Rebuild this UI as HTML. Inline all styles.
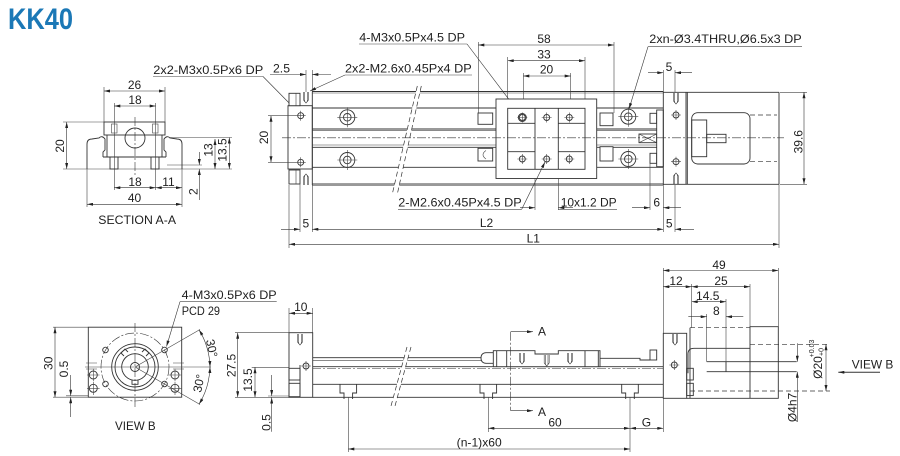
<!DOCTYPE html>
<html><head><meta charset="utf-8"><style>
html,body{margin:0;padding:0;background:#fff}
svg{display:block}
text{font-family:"Liberation Sans",sans-serif;fill:#1e1e1e}
.o{fill:none;stroke:#333;stroke-width:0.9}
.f{fill:#fff;stroke:#333;stroke-width:0.9}
.t{fill:none;stroke:#444;stroke-width:0.6}
.d{fill:none;stroke:#333;stroke-width:0.6;marker-start:url(#ar);marker-end:url(#ar)}
.e{fill:none;stroke:#333;stroke-width:0.6;marker-end:url(#ar)}
.c{fill:none;stroke:#333;stroke-width:0.6;stroke-dasharray:9 2 2 2}
.h{fill:none;stroke:#333;stroke-width:0.7;stroke-dasharray:5 3}
</style></head><body>
<svg width="900" height="456" viewBox="0 0 900 456" xmlns="http://www.w3.org/2000/svg" font-size="12">
<defs>
<marker id="ar" viewBox="0 0 8 4" refX="8" refY="2" markerWidth="7" markerHeight="3" markerUnits="userSpaceOnUse" orient="auto-start-reverse"><path d="M0,0L8,2L0,4z" fill="#222"/></marker>
<g id="hs"><circle r="3" class="o"/><path d="M-5,0H5M0,-5V5" class="t"/></g>
<g id="cb"><circle r="7.5" class="o"/><circle r="3.8" class="o"/><path d="M-10,0H10M0,-10V10" class="t"/></g>
<g id="bt"><path d="M-2.5,0V8M2.5,0V8M-1.3,0V10M1.3,0V10M-2.5,8L0,11L2.5,8" class="t"/></g>
</defs>

<!-- TITLE -->
<text x="8" y="29" style="font-size:30px;font-weight:bold;fill:#1b78b6" textLength="65" lengthAdjust="spacingAndGlyphs">KK40</text>

<!-- ============ SECTION A-A ============ -->
<path class="t" d="M104,87V122M165,87V122M114.3,103V190M155.7,103V190M63,122H104M63,169H232M87,169V207M182,169V207M170,137.5H232M167,165H202"/>
<line class="d" x1="104" y1="91" x2="165" y2="91"/>
<line class="d" x1="114.3" y1="106" x2="155.7" y2="106"/>
<line class="d" x1="66.7" y1="122" x2="66.7" y2="169"/>
<line class="d" x1="114.3" y1="187.7" x2="155.7" y2="187.7"/>
<line class="d" x1="155.7" y1="187.7" x2="182" y2="187.7"/>
<line class="d" x1="87" y1="204.3" x2="182" y2="204.3"/>
<line class="d" x1="215" y1="139" x2="215" y2="169"/>
<line class="d" x1="229.3" y1="137.5" x2="229.3" y2="169"/>
<line class="e" x1="199.3" y1="152" x2="199.3" y2="165"/>
<line class="e" x1="199.3" y1="200" x2="199.3" y2="169"/>
<path class="o" d="M87,169V144Q87,139 92,139L99,138Q102,135 105,139V150L103,152V157"/>
<path class="o" d="M182,169V144Q182,139 177,139L170,138Q167,135 164,139V150L166,152V157"/>
<rect class="o" x="104" y="122" width="61" height="13"/>
<path class="o" d="M107,135V157M162,135V157M103,157H166"/>
<rect class="o" x="110" y="157" width="8" height="12"/>
<rect class="o" x="151" y="157" width="8" height="12"/>
<rect class="t" x="111.5" y="124" width="5.5" height="9"/>
<rect class="t" x="152.5" y="124" width="5.5" height="9"/>
<circle class="o" cx="135" cy="138" r="10"/>
<line class="c" x1="135" y1="117" x2="135" y2="176"/>
<text x="134.5" y="89" text-anchor="middle">26</text>
<text x="135" y="104" text-anchor="middle">18</text>
<text transform="translate(60,146) rotate(-90)" text-anchor="middle" dominant-baseline="central">20</text>
<text transform="translate(208.3,150) rotate(-90)" text-anchor="middle" dominant-baseline="central">13</text>
<text transform="translate(222.5,150) rotate(-90)" text-anchor="middle" dominant-baseline="central">13.5</text>
<text transform="translate(193.3,191.7) rotate(-90)" text-anchor="middle" dominant-baseline="central">2</text>
<text x="135" y="186" text-anchor="middle">18</text>
<text x="168.5" y="186" text-anchor="middle">11</text>
<text x="134.5" y="202" text-anchor="middle">40</text>
<text x="98.3" y="224" textLength="77.7" lengthAdjust="spacingAndGlyphs">SECTION A-A</text>

<!-- ============ TOP VIEW ============ -->
<text x="153.3" y="74" textLength="110" lengthAdjust="spacingAndGlyphs">2x2-M3x0.5Px6 DP</text>
<path class="t" d="M153,76.5H263"/><line class="e" x1="263" y1="76.5" x2="297" y2="111"/>
<text x="273" y="72.5" textLength="17" lengthAdjust="spacingAndGlyphs">2.5</text>
<line class="e" x1="270" y1="74.5" x2="306" y2="74.5"/>
<line class="e" x1="331" y1="74.5" x2="312.3" y2="74.5"/>
<text x="345" y="72.5" textLength="126.7" lengthAdjust="spacingAndGlyphs">2x2-M2.6x0.45Px4 DP</text>
<path class="t" d="M345,75H472"/><line class="e" x1="345" y1="75" x2="310" y2="91"/>
<text x="359.3" y="41.5" textLength="105.7" lengthAdjust="spacingAndGlyphs">4-M3x0.5Px4.5 DP</text>
<path class="t" d="M359,44H467"/><line class="e" x1="467" y1="44" x2="520" y2="114"/>
<text x="649.3" y="43" textLength="152.4" lengthAdjust="spacingAndGlyphs">2xn-Ø3.4THRU,Ø6.5x3 DP</text>
<path class="t" d="M648,46.7H802"/><line class="e" x1="648" y1="46.7" x2="629" y2="109"/>
<path class="t" d="M478.3,42V115M614,42V113M507.7,57V108.3M585,57V108.3M523.3,73V113M570.7,73V113"/>
<line class="d" x1="478.3" y1="45" x2="614" y2="45"/>
<line class="d" x1="507.7" y1="60.7" x2="585" y2="60.7"/>
<line class="d" x1="523.3" y1="76" x2="570.7" y2="76"/>
<text x="544" y="43" text-anchor="middle">58</text>
<text x="544" y="58.3" text-anchor="middle">33</text>
<text x="546.5" y="73.7" text-anchor="middle">20</text>
<path class="t" d="M306,70V92M312.3,70V92M663.3,70V92M675,70V92"/>
<line class="e" x1="648" y1="72.7" x2="663.3" y2="72.7"/>
<line class="e" x1="692" y1="72.7" x2="675" y2="72.7"/>
<text x="669" y="71" text-anchor="middle">5</text>

<path class="o" d="M312.3,91.5H663.3M312.3,185H663.3M312.3,108H663.3M312.3,129H663.3M312.3,147.3H663.3M312.3,167.3H663.3"/>
<path class="t" d="M312.3,93H663.3M312.3,183.5H663.3M312.3,130.7H663.3M312.3,145H663.3"/>
<polygon points="417.3,86 421.3,86 397.3,194 392.3,194" fill="#fff"/>
<path class="h" d="M421.3,86L397.3,194M417.3,86L392.3,194"/>
<use href="#cb" x="347.3" y="117.3"/><use href="#cb" x="347.3" y="160"/>
<use href="#cb" x="628.3" y="116.7"/><use href="#cb" x="628.3" y="159"/>
<rect class="f" x="478" y="113" width="14.7" height="11.3"/>
<rect class="f" x="478" y="148.3" width="14.7" height="12.7"/>
<path class="t" d="M486,150.5Q480,154.7 486,159"/>
<rect class="f" x="600" y="113" width="13" height="12.7"/>
<rect class="f" x="600" y="146.7" width="13" height="14.3"/>
<rect class="f" x="496" y="99" width="100.7" height="79.5"/>
<rect class="o" x="507.7" y="108.3" width="77.3" height="61"/>
<path class="o" d="M535,108.3V169.3M558.3,108.3V169.3M507.7,123.3H535M507.7,151.7H535M558.3,123.3H585M558.3,151.7H585"/>
<circle class="o" cx="522.3" cy="117.5" r="4"/>
<use href="#hs" x="522.3" y="117.5"/><use href="#hs" x="546.7" y="117.5"/><use href="#hs" x="569.3" y="117.5"/>
<use href="#hs" x="522.3" y="159"/><use href="#hs" x="546.7" y="159"/><use href="#hs" x="569.3" y="159"/>
<rect class="f" x="639" y="134" width="17.7" height="8.7"/>
<path class="t" d="M639,134L656.7,142.7M639,142.7L656.7,134"/>
<rect class="f" x="650" y="113.3" width="6.7" height="10"/>
<rect class="f" x="650" y="153.3" width="6.7" height="10"/>
<rect class="f" x="656.7" y="110" width="6.6" height="56.7"/>
<rect class="f" x="288" y="105.7" width="24.3" height="63.3"/>
<path class="o" d="M312.3,91.5V185"/>
<rect class="f" x="289" y="93.3" width="11" height="12.4"/>
<rect class="f" x="289" y="170" width="11" height="14"/>
<path class="t" d="M296,93.3V105.7M296,170V184"/>
<use href="#bt" x="306" y="92"/>
<use href="#bt" transform="translate(306,185) scale(1,-1)"/>
<use href="#hs" x="300.7" y="115.7"/><use href="#hs" x="300.7" y="162.3"/>
<path class="t" d="M268,115.7H296M268,162.3H296"/>
<line class="d" x1="271" y1="115.7" x2="271" y2="162.3"/>
<text transform="translate(264.2,137.5) rotate(-90)" text-anchor="middle" dominant-baseline="central">20</text>
<path class="o" d="M663.3,91.5V185M686,92.3V184.3M687.3,92.3V184.3M663.3,92.3H779M663.3,184.3H779M779,92.3V184.3"/>
<use href="#hs" x="676" y="115"/><use href="#hs" x="676" y="161.7"/>
<use href="#bt" x="676" y="93"/>
<use href="#bt" transform="translate(676,184) scale(1,-1)"/>
<rect class="o" x="691.7" y="112.7" width="58.3" height="51.3" rx="6"/>
<rect class="o" x="691.7" y="120" width="15" height="36.7"/>
<rect class="o" x="706.7" y="134.3" width="19.3" height="8.4"/>
<path class="h" d="M750,115H777M750,161.7H777"/>
<line class="c" x1="282" y1="137.8" x2="784" y2="137.8"/>
<path class="t" d="M780,92.3H807M780,184.3H807"/>
<line class="d" x1="804" y1="92.3" x2="804" y2="184.3"/>
<text transform="translate(798.5,141.7) rotate(-90)" text-anchor="middle" dominant-baseline="central">39.6</text>
<path class="t" d="M289,185V248M300,170V232M312.3,185V232M663.3,185V232M675,185V232M779,184.3V248M650,161V210M535,178.5V210M558.3,178.5V210"/>
<text x="398.3" y="206.5" textLength="123.4" lengthAdjust="spacingAndGlyphs">2-M2.6x0.45Px4.5 DP</text>
<path class="t" d="M398,209.3H521.7"/><line class="e" x1="521.7" y1="209.3" x2="545" y2="162"/>
<text x="560.7" y="206.5" textLength="56" lengthAdjust="spacingAndGlyphs">10x1.2 DP</text>
<path class="t" d="M558.3,209.3H617"/>
<line class="e" x1="520" y1="207.7" x2="535" y2="207.7"/>
<line class="e" x1="573" y1="207.7" x2="558.3" y2="207.7"/>
<line class="e" x1="632" y1="207.7" x2="650" y2="207.7"/>
<line class="e" x1="681" y1="207.7" x2="663.3" y2="207.7"/>
<text x="656.7" y="206.5" text-anchor="middle">6</text>
<line class="e" x1="281" y1="229.3" x2="300" y2="229.3"/>
<line class="d" x1="312.3" y1="229.3" x2="663.3" y2="229.3"/>
<line class="e" x1="694" y1="229.3" x2="675" y2="229.3"/>
<text x="305.8" y="227.5" text-anchor="middle">5</text>
<text x="669.2" y="227.5" text-anchor="middle">5</text>
<text x="486.5" y="227" text-anchor="middle">L2</text>
<line class="d" x1="289" y1="244.3" x2="779" y2="244.3"/>
<text x="533.3" y="242.3" text-anchor="middle">L1</text>

<!-- ============ VIEW B ============ -->
<rect class="o" x="88.3" y="327.2" width="93.4" height="70"/>
<circle class="c" cx="135" cy="367" r="34"/>
<circle class="o" cx="135" cy="367" r="23.3"/>
<circle class="o" cx="135" cy="367" r="20"/>
<path class="o" d="M135,353.7A13.3,13.3 0 1 1 134.99,353.7"/>
<path class="o" d="M124,356l-3,-3 4,-4 3,3M146,356l3,-3 -4,-4 -3,3M132,380.3v4h6v-4" fill="#fff"/>
<circle class="o" cx="135" cy="367" r="4.5"/>
<circle class="o" cx="105.5" cy="350" r="2.8"/><circle class="o" cx="164.5" cy="350" r="2.8"/>
<circle class="o" cx="105.5" cy="384" r="2.8"/><circle class="o" cx="164.5" cy="384" r="2.8"/>
<circle class="o" cx="93.3" cy="375" r="4"/><circle class="o" cx="93.3" cy="388.3" r="4"/><circle class="o" cx="175" cy="375" r="4"/><circle class="o" cx="175" cy="388.3" r="4"/>
<path class="t" d="M87,375H99.6M93.3,368.7V381.3M87,388.3H99.6M93.3,382V395M168.7,375H181.3M175,368.7V381.3M168.7,388.3H181.3M175,382V395"/>
<path class="t" d="M86,363H97M86,369H97M173,363H184M173,369H184"/>
<line class="c" x1="135" y1="323" x2="135" y2="407"/>
<path class="t" d="M85,367H211M135,367L200,329.5M135,367L200,404.5"/>
<path class="d" d="M199,329.7A75,75 0 0 1 210,367"/>
<path class="d" d="M210,367A75,75 0 0 1 199,404.3"/>
<text transform="translate(211.7,348.3) rotate(78)" text-anchor="middle" dominant-baseline="central">30°</text>
<text transform="translate(199,383.3) rotate(-78)" text-anchor="middle" dominant-baseline="central">30°</text>
<text x="181.7" y="299" textLength="95" lengthAdjust="spacingAndGlyphs">4-M3x0.5Px6 DP</text>
<path class="t" d="M180,301.7H276.7"/><line class="e" x1="180" y1="301.7" x2="166.5" y2="346.5"/>
<text x="181.7" y="315" textLength="38.3" lengthAdjust="spacingAndGlyphs">PCD 29</text>
<path class="t" d="M53,327.2H88M53,397.2H88M66,395.8H88"/>
<line class="d" x1="55" y1="327.2" x2="55" y2="397.2"/>
<text transform="translate(48.3,363.3) rotate(-90)" text-anchor="middle" dominant-baseline="central">30</text>
<line class="e" x1="70.7" y1="375" x2="70.7" y2="395.8"/>
<line class="e" x1="70.7" y1="417" x2="70.7" y2="397.2"/>
<text transform="translate(64,369) rotate(-90)" text-anchor="middle" dominant-baseline="central">0.5</text>
<text x="115" y="430" textLength="40.7" lengthAdjust="spacingAndGlyphs">VIEW B</text>

<!-- ============ SIDE VIEW ============ -->
<path class="t" d="M235,332.7H289M251.7,367.3H289M235,397.3H289M268,396H289M289,308V332.7M312.7,308V332.7"/>
<line class="d" x1="237.7" y1="332.7" x2="237.7" y2="397.3"/>
<line class="d" x1="255" y1="367.3" x2="255" y2="397.3"/>
<line class="e" x1="271.7" y1="375" x2="271.7" y2="396"/>
<line class="e" x1="271.7" y1="431.7" x2="271.7" y2="397.5"/>
<text transform="translate(231.7,365.5) rotate(-90)" text-anchor="middle" dominant-baseline="central">27.5</text>
<text transform="translate(248,380) rotate(-90)" text-anchor="middle" dominant-baseline="central">13.5</text>
<text transform="translate(266.5,422.5) rotate(-90)" text-anchor="middle" dominant-baseline="central">0.5</text>
<line class="d" x1="289" y1="313.3" x2="312.7" y2="313.3"/>
<text x="300.8" y="311" text-anchor="middle">10</text>
<path class="o" d="M312.7,357.7H482M312.7,366.7H663.3M312.7,384.3H663.3M312.7,397.3H663.3M600,358.3H640V360H650"/>
<path class="t" d="M312.7,360.7H482"/>
<line class="c" x1="312" y1="368.5" x2="663" y2="368.5"/>
<path class="o" d="M340,384.3V393H344V399M356.6,384.3V393H352.6V399"/>
<path class="o" d="M480,384.3V393H484V399M496.6,384.3V393H492.6V399"/>
<path class="o" d="M621.7,384.3V393H625.7V399M638.3,384.3V393H634.3V399"/>
<polygon points="407,347 411,347 395,406 391,406" fill="#fff"/>
<path class="h" d="M411,347L395,406M407,347L391,406"/>
<path class="f" d="M496.7,352.7H486Q481,353 481,358Q481,363 486,363.3H496.7Z"/>
<path class="f" d="M493.3,366.7V350.7H535V354H558.3V350.7H600V366.7Z"/>
<path class="o" d="M496.7,350.7V366.7M506.7,350.7V366.7M585,350.7V366.7M598.3,350.7V366.7"/>
<use href="#bt" x="522" y="353"/><use href="#bt" x="546.7" y="355"/><use href="#bt" x="570" y="353"/>
<rect class="f" x="650" y="350" width="6.7" height="10"/>
<rect class="f" x="289" y="332.7" width="23.7" height="64.6"/>
<path class="o" d="M300,365V397.3"/>
<rect class="o" x="289" y="368.3" width="11" height="11.7"/>
<rect class="o" x="289" y="383.3" width="11" height="13.4"/>
<use href="#bt" x="300" y="334"/>
<use href="#hs" x="306" y="366"/>
<line class="c" x1="510.7" y1="331.7" x2="510.7" y2="410.7"/>
<line class="e" x1="510.7" y1="331.7" x2="533" y2="331.7"/>
<line class="e" x1="510.7" y1="410.7" x2="533" y2="410.7"/>
<text x="538" y="335.5">A</text>
<text x="538" y="416">A</text>
<path class="t" d="M348.3,397.3V452M488.3,397.3V432M630,397.3V452M663.3,398.3V432"/>
<line class="d" x1="488.3" y1="428.3" x2="630" y2="428.3"/>
<line class="d" x1="630" y1="428.3" x2="663.3" y2="428.3"/>
<line class="d" x1="348.3" y1="449" x2="630" y2="449"/>
<text x="555" y="426.5" text-anchor="middle">60</text>
<text x="641.7" y="426.5">G</text>
<text x="456.7" y="446.5" textLength="45" lengthAdjust="spacingAndGlyphs">(n-1)x60</text>
<rect class="f" x="663.3" y="333.3" width="23.4" height="65"/>
<use href="#bt" x="675" y="334"/>
<use href="#hs" x="674.3" y="365"/>
<path class="o" d="M686.7,398.3H778.3V326.7H750V398.3M690,327.7V398.3"/>
<path class="h" d="M690,327.7H750M690,391H830M750,344.3H830"/>
<path class="o" d="M688,373.3V354Q688,348.3 694,348.3H750"/>
<path class="o" d="M706.7,361.7H796.7M706.7,371.7H796.7M726,361.7V371.7"/>
<rect class="o" x="686.7" y="368.3" width="6.6" height="11.7"/>
<rect class="o" x="686.7" y="383.3" width="6.6" height="12.3"/>
<path class="t" d="M663.3,268V333M691.7,284V327.7M750,284V326.7M778.3,268V326.7M706.7,314V361.7M726,299V371.7"/>
<line class="d" x1="663.3" y1="270.5" x2="778.3" y2="270.5"/>
<line class="d" x1="663.3" y1="286.7" x2="691.7" y2="286.7"/>
<line class="d" x1="691.7" y1="286.7" x2="750" y2="286.7"/>
<line class="d" x1="691.7" y1="301.7" x2="726" y2="301.7"/>
<line class="e" x1="688.3" y1="316.7" x2="706.7" y2="316.7"/>
<line class="e" x1="743.3" y1="316.7" x2="726" y2="316.7"/>
<text x="719" y="269" text-anchor="middle">49</text>
<text x="676" y="285" text-anchor="middle">12</text>
<text x="721" y="285" text-anchor="middle">25</text>
<text x="707.7" y="300" text-anchor="middle">14.5</text>
<text x="716.3" y="315" text-anchor="middle">8</text>
<line class="d" x1="826" y1="344.3" x2="826" y2="391"/>
<text transform="translate(818,367.5) rotate(-90)" text-anchor="middle" dominant-baseline="central">Ø20</text>
<text transform="translate(812.3,348.5) rotate(-90)" text-anchor="middle" dominant-baseline="central" style="font-size:7px">+0.03</text>
<text transform="translate(821.8,352) rotate(-90)" text-anchor="middle" dominant-baseline="central" style="font-size:7px">+0</text>
<line class="e" x1="797.3" y1="343.3" x2="797.3" y2="361.7"/>
<line class="e" x1="797.3" y1="422" x2="797.3" y2="371.7"/>
<text transform="translate(792.3,407.5) rotate(-90)" text-anchor="middle" dominant-baseline="central">Ø4h7</text>
<line class="e" x1="880" y1="372.3" x2="838.3" y2="372.3" style="stroke-width:1"/>
<text x="851.7" y="368.3" textLength="41.7" lengthAdjust="spacingAndGlyphs">VIEW B</text>
</svg>
</body></html>
